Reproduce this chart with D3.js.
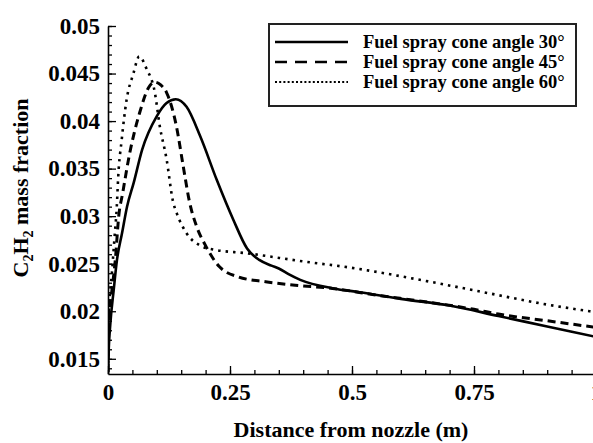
<!DOCTYPE html>
<html><head><meta charset="utf-8">
<script src="https://cdn.jsdelivr.net/npm/d3@7"></script>
<style>
body{margin:0;background:#fff;}
svg{display:block;font-family:"Liberation Serif","Times New Roman",serif;font-weight:bold;}
</style></head>
<body><div id="chart"></div>
<script>
// Data
const dist30 = [0,0.0014,0.0048,0.0116,0.0184,0.0287,0.039,0.0526,0.070,0.0998,0.120,0.139,0.161,0.189,0.223,0.257,0.285,0.31,0.335,0.35,0.37,0.394,0.462,0.516,0.6,0.7,0.8,0.9,1.0];
const frac30 = [0.0136,0.0159,0.0187,0.0222,0.0254,0.0282,0.031,0.0335,0.037,0.0405,0.0419,0.0423,0.0415,0.0384,0.0338,0.0296,0.0266,0.0254,0.0248,0.0245,0.0239,0.0233,0.0224,0.022,0.0213,0.0206,0.0195,0.0184,0.0173];
const dist45 = [0,0.002,0.008,0.015,0.022,0.03,0.044,0.065,0.083,0.096,0.108,0.12,0.14,0.154,0.167,0.181,0.2,0.228,0.268,0.323,0.392,0.46,0.55,0.65,0.75,0.8,0.9,1.0];
const frac45 = [0.0136,0.0194,0.0222,0.0254,0.0300,0.0324,0.0365,0.0409,0.0435,0.0441,0.0438,0.043,0.0395,0.0353,0.0315,0.029,0.0269,0.0247,0.0236,0.0231,0.0227,0.0224,0.0217,0.021,0.0202,0.0197,0.019,0.0183];
const dist60 = [0,0.002,0.008,0.013,0.018,0.021,0.028,0.038,0.052,0.064,0.079,0.096,0.106,0.12,0.133,0.141,0.161,0.189,0.215,0.284,0.392,0.508,0.65,0.76,0.9,1.0];
const frac60 = [0.0137,0.02,0.024,0.0275,0.031,0.0342,0.038,0.0422,0.045,0.0468,0.0455,0.043,0.0395,0.036,0.0316,0.0303,0.0282,0.0269,0.0265,0.0261,0.0253,0.0245,0.0232,0.0221,0.0207,0.0199];
const seriesNames = ["Fuel spray cone angle 30°","Fuel spray cone angle 45°","Fuel spray cone angle 60°"];
const xTicks = [0,0.25,0.5,0.75,1];
const xTickLabels = ["0","0.25","0.5","0.75","1"];
const yTicks = [0.015,0.02,0.025,0.03,0.035,0.04,0.045,0.05];
const yTickLabels = ["0.015","0.02","0.025","0.03","0.035","0.04","0.045","0.05"];
const xTitle = "Distance from nozzle (m)";

const W = 593, H = 443;
const svg = d3.select("#chart").append("svg").attr("width", W).attr("height", H);
const x = d3.scaleLinear().domain([0,1]).range([108,596]);
const y = d3.scaleLinear().domain([0.0134,0.05]).range([374,26]);

svg.append("clipPath").attr("id","pc").append("rect")
  .attr("x",108).attr("y",0).attr("width",W-108).attr("height",374);

// minor ticks
const xMinor = d3.range(0,1.0001,0.05);
const yMinor = d3.range(14,50.5,1).map(d=>d/1000);
svg.append("g").attr("transform","translate(0,374)")
  .call(d3.axisBottom(x).tickValues(xMinor).tickSizeInner(-4).tickSizeOuter(0).tickFormat(""))
  .call(g=>g.select(".domain").remove())
  .selectAll("line").attr("stroke","#000").attr("stroke-width",1.3);
svg.append("g").attr("transform","translate(108,0)")
  .call(d3.axisLeft(y).tickValues(yMinor).tickSizeInner(-4).tickSizeOuter(0).tickFormat(""))
  .call(g=>g.select(".domain").remove())
  .selectAll("line").attr("stroke","#000").attr("stroke-width",1.3);

// major axes
const gx = svg.append("g").attr("transform","translate(0,374)")
  .call(d3.axisBottom(x).tickValues(xTicks).tickSizeInner(-8).tickSizeOuter(0).tickPadding(10)
    .tickFormat((d,i)=>xTickLabels[i]));
gx.select(".domain").attr("stroke","#000").attr("stroke-width",1.6);
gx.selectAll("line").attr("stroke","#000").attr("stroke-width",1.3);
gx.selectAll("text").attr("font-size",23).attr("font-family","Liberation Serif").attr("font-weight","bold").attr("fill","#000");

const gy = svg.append("g").attr("transform","translate(108,0)")
  .call(d3.axisLeft(y).tickValues(yTicks).tickSizeInner(-8).tickSizeOuter(0).tickPadding(8)
    .tickFormat((d,i)=>yTickLabels[i]));
gy.select(".domain").attr("stroke","#000").attr("stroke-width",1.6);
gy.selectAll("line").attr("stroke","#000").attr("stroke-width",1.3);
gy.selectAll("text").attr("font-size",23).attr("font-family","Liberation Serif").attr("font-weight","bold").attr("fill","#000");

// curves
const line = d3.line().x(d=>x(d[0])).y(d=>y(d[1])).curve(d3.curveMonotoneX);
const series = [
  {pts: d3.zip(dist30,frac30), dash:null, w:2.6},
  {pts: d3.zip(dist45,frac45), dash:"8,5", w:3},
  {pts: d3.zip(dist60,frac60), dash:"2.5,5", w:2.6}
];
const plot = svg.append("g").attr("clip-path","url(#pc)");
series.forEach(s=>{
  plot.append("path").attr("d", line(s.pts)).attr("fill","none").attr("stroke","#000")
    .attr("stroke-width", s.w).attr("stroke-dasharray", s.dash);
});

// legend
const lg = svg.append("g");
lg.append("rect").attr("x",269).attr("y",24).attr("width",307).attr("height",82)
  .attr("fill","#fff").attr("stroke","#222").attr("stroke-width",2);
const legDash = [null,"12,8","2,2.2"];
const legW = [2.4,2.6,2];
seriesNames.forEach((n,i)=>{
  const cy = 42 + i*20;
  lg.append("line").attr("x1",275).attr("x2",348).attr("y1",cy).attr("y2",cy)
    .attr("stroke","#000").attr("stroke-width",legW[i]).attr("stroke-dasharray",legDash[i]);
  lg.append("text").attr("x",363).attr("y",cy+5.5).attr("font-size",18.5).attr("fill","#000").text(n);
});

// axis titles
svg.append("text").attr("x",351).attr("y",437).attr("text-anchor","middle")
  .attr("font-size",22).attr("fill","#000").text(xTitle);
const yt = svg.append("text").attr("transform","translate(28,188) rotate(-90)")
  .attr("text-anchor","middle").attr("font-size",22).attr("fill","#000");
yt.append("tspan").text("C");
yt.append("tspan").attr("font-size",14).attr("dy",5).text("2");
yt.append("tspan").attr("dy",-5).text("H");
yt.append("tspan").attr("font-size",14).attr("dy",5).text("2");
yt.append("tspan").attr("dy",-5).text(" mass fraction");
</script>
</body></html>
